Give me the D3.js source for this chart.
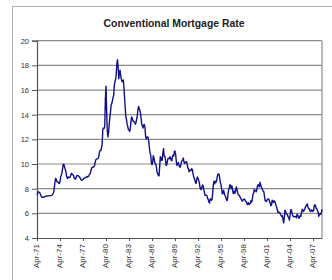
<!DOCTYPE html>
<html>
<head>
<meta charset="utf-8">
<script src="https://cdn.jsdelivr.net/npm/d3@7"></script>
<style>
  html, body { margin: 0; padding: 0; background: #fff; }
  svg { display: block; }
</style>
</head>
<body>
<svg id="chart" width="332" height="280"></svg>
<script>
// Monthly conventional mortgage rate, Apr 1971 - Jun 2008 (%)
const rates1970s = [
  7.50, 7.65, 7.75, 7.72, 7.70, 7.60, 7.45, 7.35, 7.30,
  7.32, 7.30, 7.32, 7.35, 7.37, 7.38, 7.40, 7.40, 7.42, 7.42, 7.43, 7.44,
  7.44, 7.44, 7.46, 7.52, 7.58, 7.69, 8.05, 8.50, 8.82, 8.78, 8.58, 8.54,
  8.54, 8.46, 8.41, 8.58, 8.97, 9.09, 9.28, 9.59, 9.96, 9.98, 9.79, 9.62,
  9.43, 9.10, 8.89, 8.82, 8.95, 8.92, 8.92, 8.94, 9.13, 9.24, 9.16, 9.12,
  9.10, 8.87, 8.81, 8.77, 8.87, 9.03, 9.06, 9.07, 9.02, 8.97, 8.91, 8.82,
  8.72, 8.67, 8.69, 8.75, 8.83, 8.86, 8.87, 8.90, 8.93, 8.98, 8.94, 8.99,
  9.02, 9.16, 9.20, 9.35, 9.57, 9.71, 9.74, 9.77, 9.76, 9.86, 10.11, 10.35,
  10.39, 10.41, 10.43, 10.50, 10.69, 11.04, 11.09, 11.09, 11.30, 11.64, 12.83, 12.90
];
const rates1980s = [
  12.88, 13.04, 15.28, 16.32, 14.26, 12.71, 12.19, 12.56, 13.20, 13.79, 14.21, 14.79,
  14.90, 15.13, 15.40, 15.58, 16.40, 16.70, 16.83, 17.29, 18.16, 18.45, 17.83, 16.92,
  17.40, 17.60, 17.16, 16.89, 16.68, 16.70, 16.82, 16.27, 15.43, 14.61, 13.83, 13.62,
  13.25, 13.04, 12.80, 12.78, 12.63, 12.87, 13.42, 13.81, 13.73, 13.54, 13.44, 13.42,
  13.37, 13.23, 13.39, 13.65, 13.94, 14.42, 14.67, 14.47, 14.35, 14.13, 13.64, 13.18,
  13.08, 12.92, 13.17, 13.20, 12.91, 12.22, 12.03, 12.19, 12.19, 12.14, 11.78, 11.26,
  10.88, 10.71, 10.08, 9.94, 10.14, 10.68, 10.51, 10.20, 10.01, 9.97, 9.70, 9.31,
  9.20, 9.08, 9.04, 9.83, 10.60, 10.54, 10.28, 10.33, 10.89, 11.26, 10.65, 10.64,
  10.38, 9.89, 9.93, 10.20, 10.46, 10.46, 10.43, 10.60, 10.48, 10.30, 10.27, 10.61,
  10.73, 10.65, 11.03, 11.05, 10.77, 10.20, 9.88, 9.99, 10.13, 9.95, 9.77, 9.74
];
const rates1990s = [
  9.90, 10.20, 10.27, 10.37, 10.48, 10.16, 10.04, 10.10, 10.18, 10.18, 10.01, 9.67,
  9.64, 9.37, 9.50, 9.49, 9.47, 9.62, 9.58, 9.24, 9.01, 8.86, 8.71, 8.50,
  8.43, 8.76, 8.94, 8.85, 8.67, 8.51, 8.13, 7.98, 7.92, 8.09, 8.31, 8.22,
  7.92, 7.71, 7.46, 7.46, 7.47, 7.42, 7.21, 7.11, 6.92, 6.83, 7.16, 7.17,
  7.06, 7.15, 7.68, 8.32, 8.60, 8.40, 8.61, 8.51, 8.64, 8.93, 9.17, 9.20,
  9.15, 8.83, 8.46, 8.32, 7.96, 7.57, 7.61, 7.86, 7.64, 7.48, 7.38, 7.20,
  7.03, 7.08, 7.62, 7.93, 8.07, 8.32, 8.25, 8.00, 8.23, 7.92, 7.62, 7.60,
  7.82, 7.65, 7.90, 8.14, 7.94, 7.69, 7.50, 7.48, 7.43, 7.29, 7.21, 7.10,
  6.99, 7.04, 7.13, 7.14, 7.14, 7.00, 6.95, 6.92, 6.72, 6.71, 6.87, 6.72,
  6.79, 6.81, 7.04, 6.92, 7.15, 7.55, 7.63, 7.94, 7.82, 7.85, 7.74, 7.91
];
const rates2000s = [
  8.21, 8.33, 8.24, 8.15, 8.52, 8.29, 8.15, 8.03, 7.91, 7.80, 7.75, 7.38,
  7.03, 7.05, 6.95, 7.08, 7.15, 7.16, 7.13, 6.95, 6.82, 6.62, 6.66, 7.07,
  7.00, 6.89, 7.01, 6.99, 6.81, 6.65, 6.49, 6.29, 6.09, 6.11, 6.07, 6.05,
  5.92, 5.84, 5.75, 5.81, 5.48, 5.23, 5.63, 6.26, 6.15, 5.95, 5.93, 5.88,
  5.71, 5.64, 5.45, 5.83, 6.27, 6.29, 6.06, 5.87, 5.75, 5.72, 5.73, 5.75,
  5.71, 5.63, 5.93, 5.86, 5.72, 5.58, 5.70, 5.82, 5.77, 6.07, 6.33, 6.27,
  6.15, 6.25, 6.32, 6.51, 6.60, 6.68, 6.76, 6.52, 6.40, 6.36, 6.24, 6.14,
  6.22, 6.29, 6.16, 6.18, 6.26, 6.66, 6.70, 6.57, 6.38, 6.38, 6.21, 6.10,
  5.76, 5.92, 5.97, 5.92, 6.04, 6.32
];
const tickLabels = ["Apr-71","Apr-74","Apr-77","Apr-80","Apr-83","Apr-86","Apr-89",
                    "Apr-92","Apr-95","Apr-98","Apr-01","Apr-04","Apr-07"];
const tickEvery = 36; // months between labels
const yTicks = [4, 6, 8, 10, 12, 14, 16, 18, 20];
const title = "Conventional Mortgage Rate";

const rates = rates1970s.concat(rates1980s, rates1990s, rates2000s);

const svg = d3.select("#chart");
const plotL = 37, plotR = 322, plotT = 40.7, plotB = 238;

// outer chart border
svg.append("rect").attr("x", 12.5).attr("y", 6.5).attr("width", 340).attr("height", 300)
  .attr("fill", "#fff").attr("stroke", "#b0b0b0").attr("stroke-width", 1);

const x = d3.scaleLinear().domain([0, rates.length - 1]).range([plotL, plotR]);
const y = d3.scaleLinear().domain([4, 20]).range([plotB, plotT]);

// gridlines
svg.append("g").selectAll("line").data(yTicks.filter(v => v > 4)).join("line")
  .attr("x1", plotL).attr("x2", plotR)
  .attr("y1", d => y(d)).attr("y2", d => y(d))
  .attr("stroke", "#8c8c8c").attr("stroke-width", 1.2);

// plot border (right side)
svg.append("line").attr("x1", plotR).attr("x2", plotR).attr("y1", plotT).attr("y2", plotB)
  .attr("stroke", "#8c8c8c").attr("stroke-width", 1.2);

// y axis
const yAxis = d3.axisLeft(y).tickValues(yTicks).tickSize(5).tickPadding(3).tickFormat(d3.format("d"));
const gy = svg.append("g").attr("transform", `translate(${plotL},0)`).call(yAxis);
gy.select(".domain").attr("stroke", "#555").attr("stroke-width", 1.2);
gy.selectAll(".tick line").attr("stroke", "#555");
gy.selectAll("text").attr("font-family", "Liberation Sans, Arial, sans-serif")
  .attr("font-size", 7.5).attr("fill", "#333");

// x axis
const tickIdx = tickLabels.map((_, i) => i * tickEvery);
const xAxis = d3.axisBottom(x).tickValues(tickIdx).tickSize(3).tickSizeOuter(0)
  .tickFormat((d, i) => tickLabels[i]);
const gx = svg.append("g").attr("transform", `translate(0,${plotB})`).call(xAxis);
gx.select(".domain").attr("stroke", "#555").attr("stroke-width", 1.2);
gx.selectAll(".tick line").attr("stroke", "#555");
gx.selectAll("text")
  .attr("font-family", "Liberation Sans, Arial, sans-serif")
  .attr("font-size", 8).attr("fill", "#333")
  .attr("text-anchor", "end")
  .attr("transform", "rotate(-90)")
  .attr("x", -6).attr("y", -1).attr("dy", "0.35em");

// data line
const line = d3.line().x((d, i) => x(i)).y(d => y(d));
svg.append("path").datum(rates).attr("d", line)
  .attr("fill", "none").attr("stroke", "#10108a").attr("stroke-width", 1.4)
  .attr("stroke-linejoin", "round");

// title
svg.append("text").attr("x", 174).attr("y", 26.5).attr("text-anchor", "middle")
  .attr("font-family", "Liberation Sans, Arial, sans-serif").attr("font-weight", "bold")
  .attr("font-size", 10.4).attr("fill", "#222").text(title);
</script>
</body>
</html>
